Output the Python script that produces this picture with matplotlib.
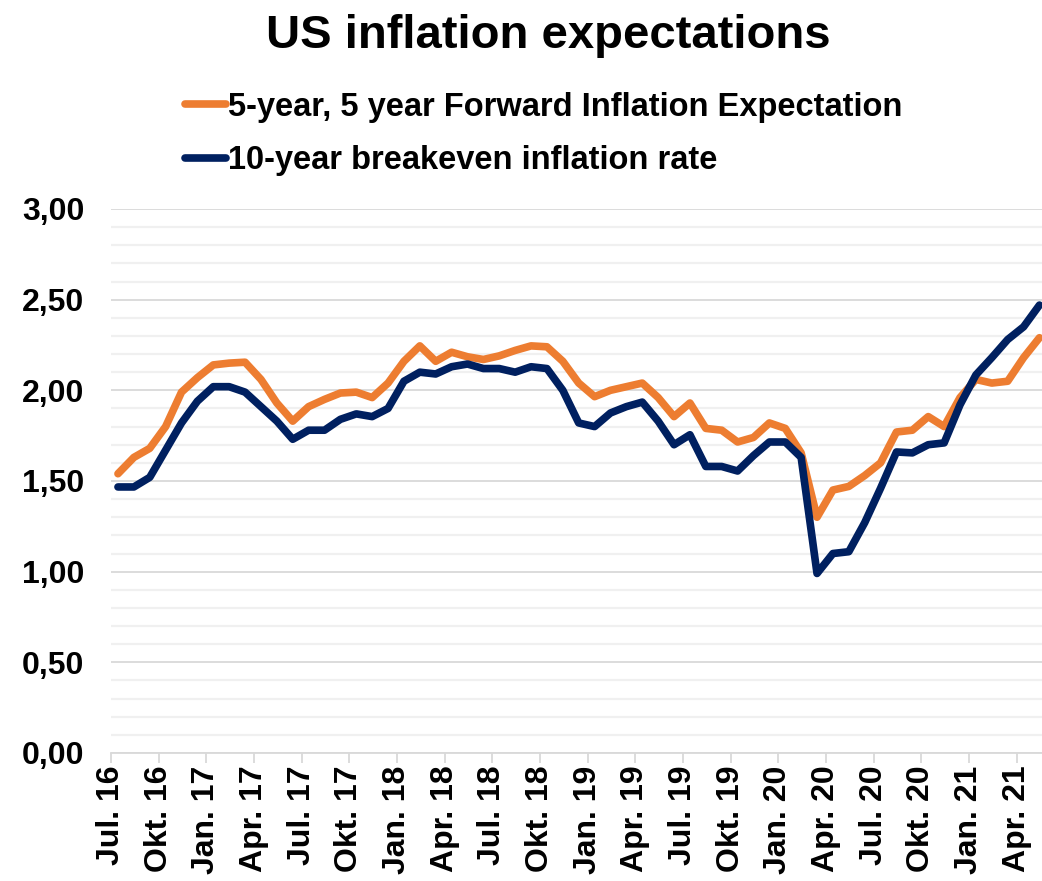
import numpy as np
import matplotlib
matplotlib.use("Agg")
import matplotlib.pyplot as plt
from matplotlib.ticker import MultipleLocator, FuncFormatter

# ------------------------------------------------------------
# Daten (monatlich, Jul. 2016 - Mai 2021)

forward_5y5y = [1.54, 1.63, 1.68, 1.80, 1.99, 2.07, 2.14, 2.15, 2.155, 2.06,
                1.93, 1.83, 1.91, 1.95, 1.985, 1.99, 1.96, 2.04, 2.16, 2.245,
                2.16, 2.21, 2.185, 2.17, 2.19, 2.22, 2.245, 2.24, 2.16, 2.04,
                1.965, 2.00, 2.02, 2.04, 1.96, 1.855, 1.93, 1.79, 1.78, 1.715,
                1.74, 1.82, 1.79, 1.655, 1.30, 1.45, 1.47, 1.53, 1.60, 1.77,
                1.78, 1.855, 1.80, 1.96, 2.06, 2.04, 2.05, 2.18, 2.29]

breakeven_10y = [1.467, 1.467, 1.52, 1.67, 1.82, 1.94, 2.02, 2.02, 1.99, 1.91,
                 1.83, 1.73, 1.78, 1.78, 1.84, 1.87, 1.855, 1.90, 2.05, 2.10,
                 2.09, 2.13, 2.145, 2.12, 2.12, 2.10, 2.13, 2.12, 2.00, 1.82,
                 1.80, 1.875, 1.91, 1.935, 1.83, 1.70, 1.755, 1.58, 1.58, 1.555,
                 1.64, 1.715, 1.715, 1.63, 0.99, 1.10, 1.11, 1.27, 1.46, 1.66,
                 1.655, 1.70, 1.71, 1.92, 2.085, 2.18, 2.28, 2.35, 2.47]

tick_labels = ["Jul. 16", "Okt. 16", "Jan. 17", "Apr. 17", "Jul. 17", "Okt. 17",
               "Jan. 18", "Apr. 18", "Jul. 18", "Okt. 18", "Jan. 19", "Apr. 19",
               "Jul. 19", "Okt. 19", "Jan. 20", "Apr. 20", "Jul. 20", "Okt. 20",
               "Jan. 21", "Apr. 21"]

label_orange = "5-year, 5 year Forward Inflation Expectation"
label_blue = "10-year breakeven inflation rate"

# ------------------------------------------------------------
# Plot

plt.rcParams['font.family'] = ['Liberation Sans', 'DejaVu Sans']
plt.rcParams['font.weight'] = 'bold'

fig = plt.figure(figsize=(10.42, 8.81), dpi=100)
ax = fig.add_axes([0.1065, 0.1453, 0.8935, 0.6175])

# Datenpunkte liegen etwa Mitte Monat
months = np.arange(len(forward_5y5y)) + 0.44

ax.plot(months, forward_5y5y, color="#ED7D31", lw=5.5, solid_capstyle="round",
        solid_joinstyle="round", label=label_orange, zorder=3)
ax.plot(months, breakeven_10y, color="#002060", lw=5.5, solid_capstyle="round",
        solid_joinstyle="round", label=label_blue, zorder=4)

ax.set_xlim(0, 58.6)
ax.set_ylim(0, 3.0)

ax.yaxis.set_major_locator(MultipleLocator(0.5))
ax.yaxis.set_minor_locator(MultipleLocator(0.1))
ax.yaxis.set_major_formatter(FuncFormatter(lambda v, p: f"{v:.2f}".replace(".", ",")))
ax.grid(axis="y", which="major", color="#D9D9D9", lw=1.3, zorder=0)
ax.grid(axis="y", which="minor", color="#F0F0F0", lw=1.6, zorder=0)
ax.set_axisbelow(True)

ax.set_xticks(np.arange(0, 3 * len(tick_labels), 3))
ax.set_xticklabels(tick_labels, rotation=90, fontsize=23, fontweight="bold")
ax.tick_params(axis="x", length=7, width=1.3, color="#D9D9D9", pad=2)
ax.tick_params(axis="y", which="both", length=0, labelsize=23, pad=19)
for lbl in ax.get_yticklabels():
    lbl.set_fontweight("bold")

for s in ["top", "right", "left"]:
    ax.spines[s].set_visible(False)
ax.spines["bottom"].set_color("#D9D9D9")
ax.spines["bottom"].set_linewidth(1.3)
ax.spines["bottom"].set_zorder(1)

fig.text(0.526, 0.959, "US inflation expectations", ha="center", va="center",
         fontsize=34, fontweight="bold")

fig.legend(loc="upper left", bbox_to_anchor=(0.178, 0.896), frameon=False,
           fontsize=23.5, handlelength=1.25, handletextpad=0.06,
           labelspacing=0.7, borderpad=0, borderaxespad=0)

fig.savefig("out.png", dpi=100)
